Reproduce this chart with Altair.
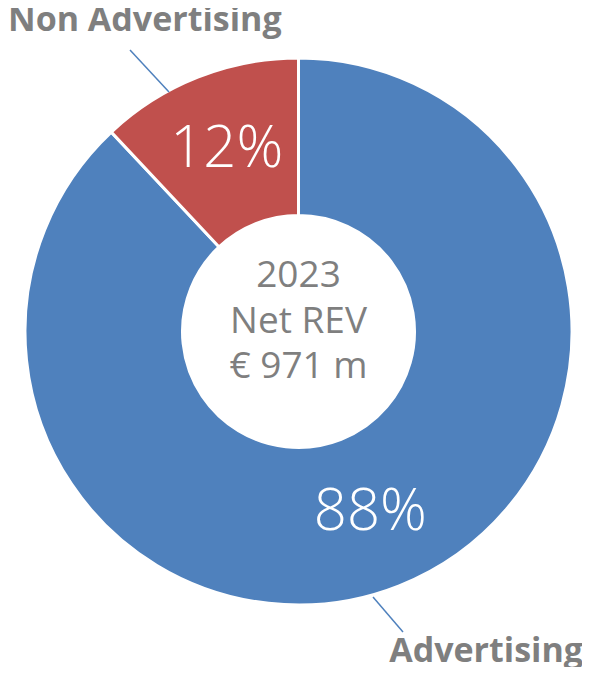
import altair as alt
import pandas as pd

categories = ["Advertising", "Non Advertising"]
shares = [88, 12]
pct_labels = ["88%", "12%"]
colors = ["#4F81BD", "#C0504D"]
center_lines = ["2023", "Net REV", "€ 971 m"]

W, H = 574, 659
CX, CY = 290.5, 323.5

df = pd.DataFrame({"cat": categories, "value": shares, "pct": pct_labels, "ord": [0, 1]})

base = alt.Chart(df).encode(
    theta=alt.Theta("value:Q", stack=True),
    order=alt.Order("ord:Q"),
)

arcs = base.mark_arc(x=CX, y=CY, outerRadius=273.5, innerRadius=116,
                     stroke="white", strokeWidth=3).encode(
    color=alt.Color("cat:N", scale=alt.Scale(domain=categories, range=colors), legend=None)
)

pct = base.mark_text(x=CX, y=CY, radius=195, font="Open Sans", fontWeight=300,
                     fontSize=58, color="white", align="center", baseline="middle").encode(
    text="pct:N"
)

center_df = pd.DataFrame({"t": center_lines, "i": [0, 1, 2]})
center = alt.Chart(center_df).mark_text(font="Open Sans", fontSize=37, color="#7F7F7F",
                                        align="center", baseline="middle").encode(
    x=alt.value(CX),
    y=alt.Y("i:Q", scale=alt.Scale(domain=[0, 2], range=[268, 359]), axis=None),
    text="t:N",
)

# outer category labels with leader lines
lab_df = pd.DataFrame({
    "t": ["Non Advertising", "Advertising"],
    "x": [0, 575],
    "y": [23, 654],
})
lab_left = alt.Chart(lab_df.iloc[[0]]).mark_text(font="Open Sans", fontWeight="bold", fontSize=34,
                                                 color="#7F7F7F", align="left", baseline="alphabetic").encode(
    x=alt.X("x:Q", scale=None), y=alt.Y("y:Q", scale=None), text="t:N")
lab_right = alt.Chart(lab_df.iloc[[1]]).mark_text(font="Open Sans", fontWeight="bold", fontSize=34,
                                                  color="#7F7F7F", align="right", baseline="alphabetic").encode(
    x=alt.X("x:Q", scale=None), y=alt.Y("y:Q", scale=None), text="t:N")

lead_df = pd.DataFrame({
    "seg": ["n", "n", "a", "a"],
    "x": [161, 122, 365, 395],
    "y": [84, 42, 589, 624],
})
leaders = alt.Chart(lead_df).mark_line(color="#4F81BD", strokeWidth=1.5).encode(
    x=alt.X("x:Q", scale=None), y=alt.Y("y:Q", scale=None), detail="seg:N")

chart = alt.layer(arcs, pct, leaders, lab_left, lab_right, center).resolve_scale(
    y="independent", x="independent"
).properties(
    width=W, height=H, padding=0, autosize=alt.AutoSizeParams(type="none")
).configure_view(stroke=None)

chart.save("out.html", embed_options={"renderer": "svg", "actions": False})
